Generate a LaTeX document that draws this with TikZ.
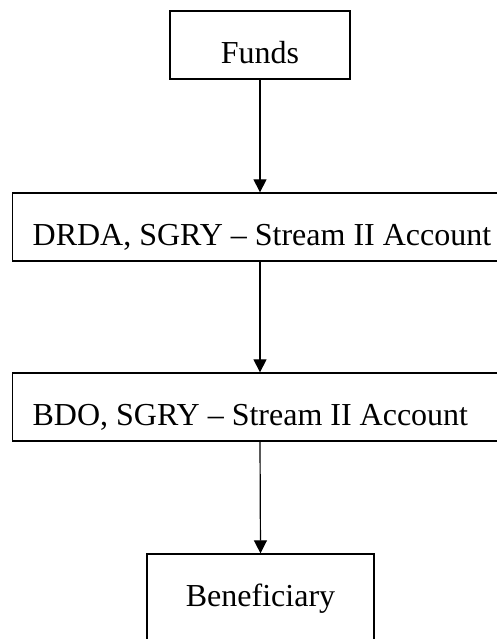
\documentclass[tikz,border=0pt]{standalone}
\usepackage{fontspec}
\setmainfont{Liberation Serif}
\usetikzlibrary{arrows.meta}
\begin{document}
\begin{tikzpicture}[x=1pt,y=1pt,
  boxnode/.style={draw=black,line width=1.3pt,inner xsep=0pt,inner ysep=0pt,
    text height=53pt,text depth=15pt,font=\fontsize{32}{38}\selectfont},
  widebox/.style={boxnode,inner xsep=20pt},
  flow/.style={draw=black,line width=1.2pt,-{Triangle[length=13pt,width=13pt]}}]
\useasboundingbox (0,0) rectangle (497,639);
\clip (0,0) rectangle (497,639);
\node[boxnode,minimum width=180pt,anchor=base] (funds) at (260,575) {Funds};
\node[widebox,anchor=base west] (drda) at (12,393) {\makebox[480pt][l]{DRDA, SGRY -- Stream II Account}};
\node[widebox,anchor=base west] (bdo) at (12,213) {\makebox[480pt][l]{BDO, SGRY -- Stream II Account}};
\node[boxnode,minimum width=227pt,text depth=36pt,anchor=base] (ben) at (260.5,32) {Beneficiary};
\draw[flow] (funds.south) -- (funds.south |- drda.north);
\draw[flow] (funds.south |- drda.south) -- (funds.south |- bdo.north);
\draw[flow] (funds.south |- bdo.south) -- (ben.north);
\end{tikzpicture}
\end{document}
